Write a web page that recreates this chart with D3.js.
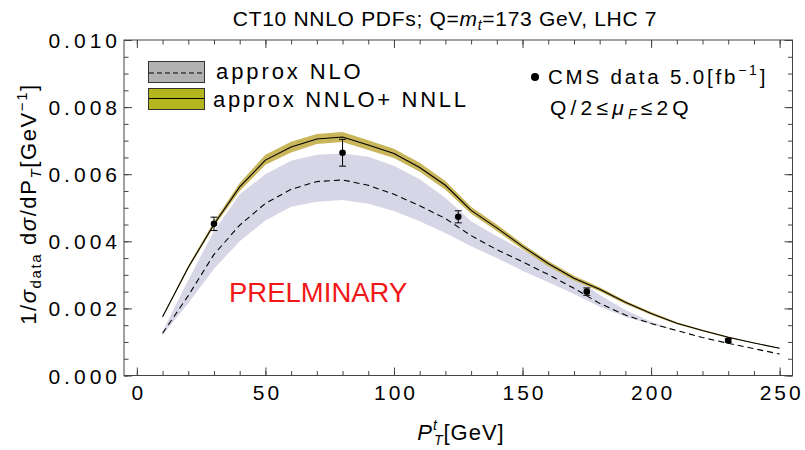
<!DOCTYPE html>
<html>
<head>
<meta charset="utf-8">
<script src="https://cdn.jsdelivr.net/npm/d3@7"></script>
<style>
  body { margin: 0; background: #fff; }
  text { font-family: "Liberation Sans", Arial, Helvetica, sans-serif; fill: #000; }
</style>
</head>
<body>
<svg id="chart" width="805" height="450"></svg>
<script>
// Top-quark pT grid (GeV) shared by the theory curves
const ptGrid = [10, 20, 30, 40, 50, 60, 70, 80, 90, 100, 110, 120, 130, 140, 150, 160, 170, 180, 190, 200, 210, 220, 230, 240, 250];

// approx NNLO + NNLL: central value and scale band
const nnloCentral = [0.00175, 0.00322, 0.00451, 0.00562, 0.00642, 0.00681, 0.00705, 0.00711, 0.00687, 0.00662, 0.00620, 0.00567, 0.00492, 0.00440, 0.00385, 0.00334, 0.00290, 0.00257, 0.00218, 0.00185, 0.00156, 0.00134, 0.00114, 0.00097, 0.00081];
const nnloUpper   = [0.00177, 0.00328, 0.00458, 0.00574, 0.00658, 0.00697, 0.00720, 0.00726, 0.00701, 0.00676, 0.00634, 0.00580, 0.00503, 0.00450, 0.00393, 0.00341, 0.00297, 0.00263, 0.00223, 0.00189, 0.00159, 0.00136, 0.00116, 0.00098, 0.00082];
const nnloLower   = [0.00173, 0.00318, 0.00444, 0.00550, 0.00628, 0.00665, 0.00690, 0.00696, 0.00672, 0.00648, 0.00607, 0.00554, 0.00482, 0.00431, 0.00376, 0.00326, 0.00283, 0.00251, 0.00213, 0.00181, 0.00153, 0.00132, 0.00112, 0.00096, 0.00080];

// approx NLO: central value and scale band
const nloCentral = [0.00126, 0.00238, 0.00361, 0.00448, 0.00513, 0.00555, 0.00578, 0.00583, 0.00567, 0.00540, 0.00506, 0.00468, 0.00417, 0.00375, 0.00339, 0.00301, 0.00260, 0.00215, 0.00180, 0.00155, 0.00134, 0.00113, 0.00096, 0.00080, 0.00064];
const nloUpper   = [0.00132, 0.00285, 0.00430, 0.00540, 0.00600, 0.00640, 0.00658, 0.00662, 0.00652, 0.00625, 0.00585, 0.00530, 0.00460, 0.00415, 0.00374, 0.00333, 0.00294, 0.00240, 0.00195, 0.00160, 0.00134, 0.00113, 0.00096, 0.00080, 0.00064];
const nloLower   = [0.00120, 0.00215, 0.00318, 0.00400, 0.00462, 0.00503, 0.00518, 0.00523, 0.00512, 0.00490, 0.00460, 0.00425, 0.00385, 0.00350, 0.00312, 0.00278, 0.00243, 0.00205, 0.00175, 0.00153, 0.00134, 0.00113, 0.00096, 0.00080, 0.00064];

// CMS 7 TeV normalized data
const cmsPt  = [30, 80, 125, 175, 230];
const cmsVal = [0.00452, 0.00664, 0.00473, 0.00250, 0.00104];
const cmsErr = [0.00020, 0.00040, 0.00018, 0.00011, 0.00005];

// Tick values and labels
const xMajor = [0, 50, 100, 150, 200, 250];
const xMinor = d3.range(0, 251, 10);
const yMajor = [0, 0.002, 0.004, 0.006, 0.008, 0.010];
const yMajorLabels = ["0.000", "0.002", "0.004", "0.006", "0.008", "0.010"];
const yMinor = d3.range(0, 0.01001, 0.0005);

const svg = d3.select("#chart");
const L = 124, R = 792.5, T = 40, B = 375.5;
const x = d3.scaleLinear().domain([-5, 255]).range([L, R]);
const y = d3.scaleLinear().domain([0, 0.010]).range([B, T]);

const nnloColor = "#c9b55a";
const nloColor = "#d6d6e7";

// Bands
const band = (up, lo) => d3.area()
  .x((d, i) => x(ptGrid[i]))
  .y0((d, i) => y(lo[i]))
  .y1((d, i) => y(up[i]));

svg.append("path").attr("d", band(nloUpper, nloLower)(ptGrid)).attr("fill", nloColor);
svg.append("path").attr("d", band(nnloUpper, nnloLower)(ptGrid)).attr("fill", nnloColor);

const line = vals => d3.line().x((d, i) => x(ptGrid[i])).y((d, i) => y(vals[i]));
svg.append("path").attr("d", line(nloCentral)(ptGrid))
  .attr("fill", "none").attr("stroke", "#000").attr("stroke-width", 1.1)
  .attr("stroke-dasharray", "6,4");
svg.append("path").attr("d", line(nnloCentral)(ptGrid))
  .attr("fill", "none").attr("stroke", "#000").attr("stroke-width", 1.1);

// Data points with error bars
const pts = svg.append("g");
cmsPt.forEach((pt, i) => {
  const cx = x(pt), v = cmsVal[i], e = cmsErr[i];
  pts.append("line").attr("x1", cx).attr("x2", cx).attr("y1", y(v + e)).attr("y2", y(v - e))
    .attr("stroke", "#000").attr("stroke-width", 1);
  [v + e, v - e].forEach(w => pts.append("line")
    .attr("x1", cx - 3.5).attr("x2", cx + 3.5).attr("y1", y(w)).attr("y2", y(w))
    .attr("stroke", "#000").attr("stroke-width", 1));
  pts.append("circle").attr("cx", cx).attr("cy", y(v)).attr("r", 3.3).attr("fill", "#000");
});

// Frame with inward ticks on all four sides
const frameColor = "#444";
svg.append("rect").attr("x", L).attr("y", T).attr("width", R - L).attr("height", B - T)
  .attr("fill", "none").attr("stroke", frameColor).attr("stroke-width", 1);

function ticks(axisGen, tr, vals, size) {
  const g = svg.append("g").attr("transform", tr)
    .call(axisGen.tickValues(vals).tickSize(size).tickFormat(""));
  g.select(".domain").remove();
  g.selectAll("line").attr("stroke", frameColor);
  return g;
}
ticks(d3.axisBottom(x), `translate(0,${B})`, xMinor, -4.5);
ticks(d3.axisBottom(x), `translate(0,${B})`, xMajor, -8);
ticks(d3.axisTop(x), `translate(0,${T})`, xMinor, -4.5);
ticks(d3.axisTop(x), `translate(0,${T})`, xMajor, -8);
ticks(d3.axisLeft(y), `translate(${L},0)`, yMinor, -4.5);
ticks(d3.axisLeft(y), `translate(${L},0)`, yMajor, -8);
ticks(d3.axisRight(y), `translate(${R},0)`, yMinor, -4.5);
ticks(d3.axisRight(y), `translate(${R},0)`, yMajor, -8);

// Tick labels
const xLab = svg.append("g").attr("transform", `translate(0,${B})`)
  .call(d3.axisBottom(x).tickValues(xMajor).tickSize(0).tickPadding(24).tickFormat(d3.format("d")));
xLab.select(".domain").remove();
xLab.selectAll("text").attr("font-size", 21).attr("dy", 0).attr("dx", 1.5).style("letter-spacing", "3px")
  .attr("font-family", "Liberation Sans, Arial, sans-serif");

const yLab = svg.append("g").attr("transform", `translate(${L},0)`)
  .call(d3.axisLeft(y).tickValues(yMajor).tickSize(0).tickPadding(3)
    .tickFormat((d, i) => yMajorLabels[i]));
yLab.select(".domain").remove();
yLab.selectAll("text").attr("font-size", 21).attr("dy", "0.36em").style("letter-spacing", "4px")
  .attr("font-family", "Liberation Sans, Arial, sans-serif");

// Title
const title = svg.append("text").attr("x", 445).attr("y", 26).attr("text-anchor", "middle")
  .attr("font-size", 21).style("letter-spacing", "0.7px");
title.append("tspan").text("CT10 NNLO PDFs; Q=");
title.append("tspan").attr("font-style", "italic").text("m");
title.append("tspan").attr("font-style", "italic").attr("font-size", 14).attr("dy", 4).text("t");
title.append("tspan").attr("dy", -4).text("=173 GeV, LHC 7");

// Axis titles
const xt = svg.append("text").attr("x", 461).attr("y", 440).attr("text-anchor", "middle")
  .attr("font-size", 22).style("letter-spacing", "1px");
xt.append("tspan").attr("font-style", "italic").text("P");
xt.append("tspan").attr("font-style", "italic").attr("font-size", 14).attr("dy", -10).attr("dx", 0).text("t");
xt.append("tspan").attr("font-style", "italic").attr("font-size", 14).attr("dy", 15).attr("dx", -4).text("T");
xt.append("tspan").attr("dy", -5).text("[GeV]");

const yt = svg.append("text").attr("transform", "translate(36,204) rotate(-90)")
  .attr("text-anchor", "middle").attr("font-size", 22).style("letter-spacing", "1.6px");
yt.append("tspan").text("1/");
yt.append("tspan").attr("font-style", "italic").text("σ");
yt.append("tspan").attr("font-size", 15).attr("dy", 5).text("data");
yt.append("tspan").attr("dy", -5).text(" d");
yt.append("tspan").attr("font-style", "italic").text("σ");
yt.append("tspan").text("/dP");
yt.append("tspan").attr("font-style", "italic").attr("font-size", 15).attr("dy", 5).text("T");
yt.append("tspan").attr("dy", -5).text("[GeV");
yt.append("tspan").attr("font-size", 15).attr("dy", -9).text("−1");
yt.append("tspan").attr("dy", 9).text("]");

// Legend
const leg = svg.append("g");
leg.append("rect").attr("x", 148.5).attr("y", 61.5).attr("width", 56).attr("height", 21)
  .attr("fill", "#b2b2b2").attr("stroke", "#333");
leg.append("line").attr("x1", 149).attr("x2", 204).attr("y1", 73).attr("y2", 73)
  .attr("stroke", "#000").attr("stroke-dasharray", "5,3");
leg.append("rect").attr("x", 148.5).attr("y", 88.5).attr("width", 56).attr("height", 21)
  .attr("fill", "#b5b520").attr("stroke", "#333");
leg.append("line").attr("x1", 149).attr("x2", 204).attr("y1", 98.5).attr("y2", 98.5)
  .attr("stroke", "#000");
leg.append("text").attr("x", 216).attr("y", 79).attr("font-size", 22).style("letter-spacing", "2.9px").text("approx NLO");
leg.append("text").attr("x", 213).attr("y", 106.5).attr("font-size", 22).style("letter-spacing", "2.7px").text("approx NNLO+ NNLL");

leg.append("circle").attr("cx", 535).attr("cy", 77).attr("r", 4).attr("fill", "#000");
const cms = leg.append("text").attr("x", 548).attr("y", 84).attr("font-size", 20.5).style("letter-spacing", "2.8px");
cms.append("tspan").text("CMS data 5.0[fb");
cms.append("tspan").attr("font-size", 14).attr("dy", -9).text("−1");
cms.append("tspan").attr("dy", 9).text("]");
const qs = leg.append("text").attr("x", 550).attr("y", 115).attr("font-size", 21).style("letter-spacing", "4.2px");
qs.append("tspan").text("Q/2≤");
qs.append("tspan").attr("font-style", "italic").text("μ");
qs.append("tspan").attr("font-style", "italic").attr("font-size", 14).attr("dy", 4).text("F");
qs.append("tspan").attr("dy", -4).text("≤2Q");

// Watermark
svg.append("text").attr("x", 229).attr("y", 302).attr("font-size", 27.5).style("fill", "#f01818")
  .text("PRELMINARY");
</script>
</body>
</html>
